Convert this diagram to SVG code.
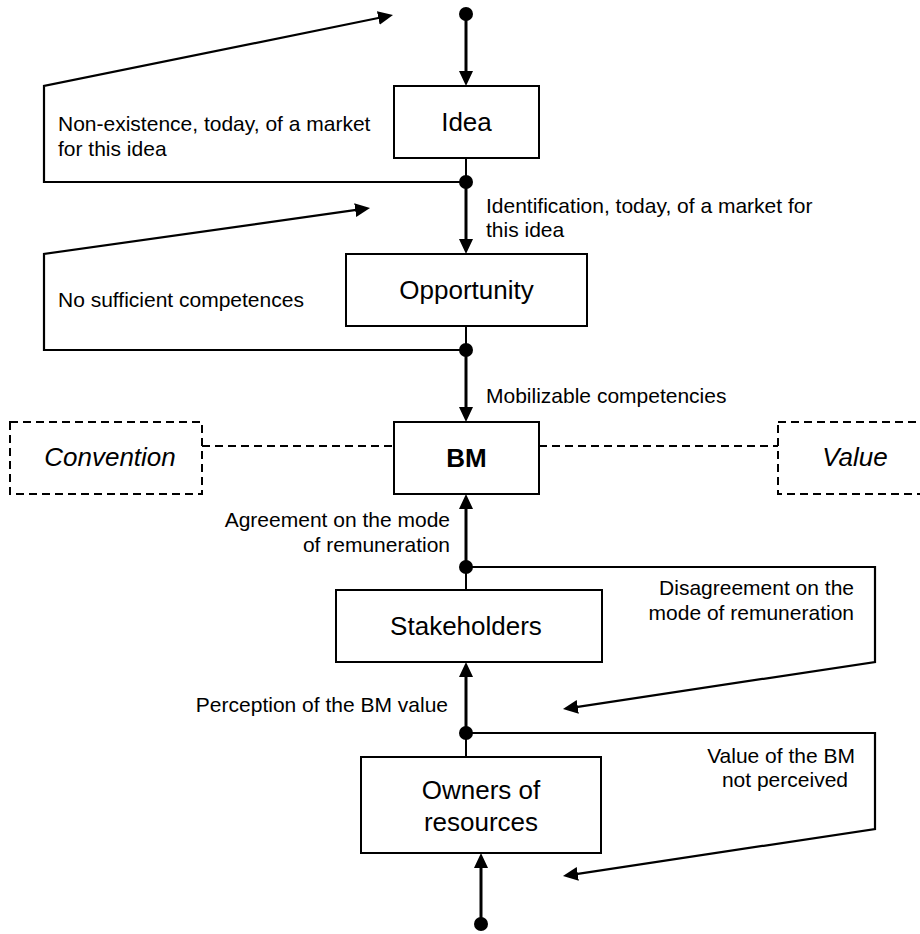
<svg xmlns="http://www.w3.org/2000/svg" width="920" height="934" viewBox="0 0 920 934">
  <defs>
    <marker id="arrow" markerUnits="userSpaceOnUse" markerWidth="16" markerHeight="15" refX="10" refY="7" orient="auto">
      <path d="M0,0 L15,7 L0,14 z" fill="#000"/>
    </marker>
    <style>
      text { font-family: "Liberation Sans", Arial, Helvetica, sans-serif; fill: #000; }
      .box { fill: #fff; stroke: #000; stroke-width: 2; }
      .dash { fill: none; stroke: #000; stroke-width: 2; stroke-dasharray: 8 5; }
      .node { font-size: 26px; text-anchor: middle; }
      .lbl { font-size: 21px; }
      .end { text-anchor: end; }
      .main { fill: none; stroke: #000; stroke-width: 3; marker-end: url(#arrow); }
      .stem { fill: none; stroke: #000; stroke-width: 2; }
      .loop { fill: none; stroke: #000; stroke-width: 2.2; stroke-linejoin: miter; marker-end: url(#arrow); }
      .dot { fill: #000; }
    </style>
  </defs>

  <rect width="920" height="934" fill="#fff"/>

  <!-- connectors -->
  <g id="connectors">
    <!-- main flow -->
    <line class="main" x1="466" y1="14" x2="466" y2="81"/>
    <line class="stem" x1="466" y1="158" x2="466" y2="182"/>
    <line class="main" x1="466" y1="182" x2="466" y2="249"/>
    <line class="stem" x1="466" y1="326" x2="466" y2="350"/>
    <line class="main" x1="466" y1="350" x2="466" y2="417"/>
    <line class="main" x1="466" y1="567" x2="466" y2="499"/>
    <line class="stem" x1="466" y1="567" x2="466" y2="590"/>
    <line class="main" x1="466" y1="733" x2="466" y2="667"/>
    <line class="stem" x1="466" y1="733" x2="466" y2="757"/>
    <line class="main" x1="481" y1="924" x2="481" y2="858"/>

    <!-- feedback loops -->
    <polyline class="loop" points="466,182 44,182 44,86 388.1,16"/>
    <polyline class="loop" points="466,350 44,350 44,254 365.1,208.7"/>
    <polyline class="loop" points="466,567 875,567 875,662 567.9,708.3"/>
    <polyline class="loop" points="466,733 875,733 875,829 567.9,875.3"/>

    <!-- dashed links around BM -->
    <line class="dash" x1="202" y1="446" x2="394" y2="446"/>
    <line class="dash" x1="539" y1="446" x2="778" y2="446"/>

    <!-- junction dots -->
    <circle class="dot" cx="466" cy="14" r="7"/>
    <circle class="dot" cx="466" cy="182" r="7"/>
    <circle class="dot" cx="466" cy="350" r="7"/>
    <circle class="dot" cx="466" cy="567" r="7"/>
    <circle class="dot" cx="466" cy="733" r="7"/>
    <circle class="dot" cx="481" cy="924" r="7"/>
  </g>

  <!-- nodes -->
  <g id="idea">
    <rect class="box" x="394" y="86" width="145" height="72"/>
    <text class="node" x="466.5" y="131">Idea</text>
  </g>
  <g id="opportunity">
    <rect class="box" x="346" y="254" width="241" height="72"/>
    <text class="node" x="466.5" y="299">Opportunity</text>
  </g>
  <g id="bm">
    <rect class="box" x="394" y="422" width="145" height="72"/>
    <text class="node" x="466.5" y="467" font-weight="bold">BM</text>
  </g>
  <g id="convention">
    <rect class="dash" x="10" y="422" width="192" height="72"/>
    <text class="node" x="110" y="466" font-style="italic">Convention</text>
  </g>
  <g id="value">
    <rect class="dash" x="778" y="422" width="200" height="72"/>
    <text class="node" x="855" y="466" font-style="italic">Value</text>
  </g>
  <g id="stakeholders">
    <rect class="box" x="336" y="590" width="266" height="72"/>
    <text class="node" x="466" y="635">Stakeholders</text>
  </g>
  <g id="owners">
    <rect class="box" x="361" y="757" width="240" height="96"/>
    <text class="node" x="481" y="799">Owners of</text>
    <text class="node" x="481" y="831">resources</text>
  </g>

  <!-- connector labels -->
  <g id="labels">
    <text class="lbl" x="58" y="131">Non-existence, today, of a market</text>
    <text class="lbl" x="58" y="156">for this idea</text>
    <text class="lbl" x="486" y="213">Identification, today, of a market for</text>
    <text class="lbl" x="486" y="237">this idea</text>
    <text class="lbl" x="58" y="307">No sufficient competences</text>
    <text class="lbl" x="486" y="403">Mobilizable competencies</text>
    <text class="lbl end" x="450" y="527">Agreement on the mode</text>
    <text class="lbl end" x="450" y="552">of remuneration</text>
    <text class="lbl end" x="854" y="595">Disagreement on the</text>
    <text class="lbl end" x="854" y="620">mode of remuneration</text>
    <text class="lbl end" x="448" y="712">Perception of the BM value</text>
    <text class="lbl end" x="855" y="763">Value of the BM</text>
    <text class="lbl end" x="848" y="787">not perceived</text>
  </g>
</svg>
